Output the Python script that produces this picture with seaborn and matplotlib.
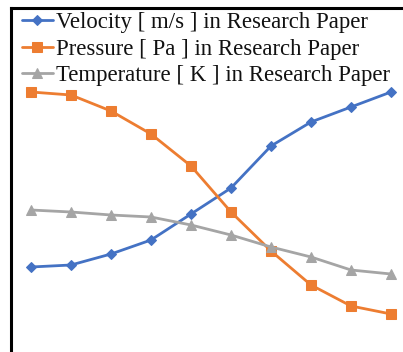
import matplotlib
matplotlib.use("Agg")
import matplotlib.pyplot as plt
import seaborn as sns
import pandas as pd

# data (arbitrary units, 10 sample points)
points = list(range(10))
velocity = [85, 87, 98, 112, 138, 164, 206, 230, 245, 260]
pressure = [260, 257, 241, 218, 186, 140, 101, 67, 46, 38]
temperature = [142, 140, 137, 135, 127, 117, 105, 95, 82, 78]

labels = ["Velocity [ m/s ] in Research Paper",
          "Pressure [ Pa ] in Research Paper",
          "Temperature [ K ] in Research Paper"]
colors = ["#4472C4", "#ED7D31", "#A5A5A5"]
markers = ["D", "s", "^"]
msizes = [5.5, 7, 7.5]

sns.set_style("white")
plt.rcParams['font.family'] = ['Liberation Serif', 'DejaVu Serif']

fig = plt.figure(figsize=(4.03, 3.52), dpi=100)
ax = fig.add_axes([11/403, 0, 400/403, 344/352])

for vals, lab, c, m, ms in zip([velocity, pressure, temperature], labels, colors, markers, msizes):
    sns.lineplot(x=points, y=vals, ax=ax, color=c, marker=m, markersize=ms,
                 markeredgecolor=c, linewidth=2, label=lab)

ax.set_xlim(-0.5, 9.5)
ax.set_ylim(0, 344)
ax.set_xticks([])
ax.set_yticks([])
for s in ["right", "bottom"]:
    ax.spines[s].set_visible(False)
for s in ["left", "top"]:
    ax.spines[s].set_color("black")
    ax.spines[s].set_linewidth(2.2)

ax.legend(loc="upper left", bbox_to_anchor=(0.0275, 0.987), frameon=False,
          fontsize=16.4, handlelength=1.36, handletextpad=0.13,
          labelspacing=0.24, borderaxespad=0, borderpad=0, labelcolor="#111111")

fig.savefig("out.png", dpi=100)
